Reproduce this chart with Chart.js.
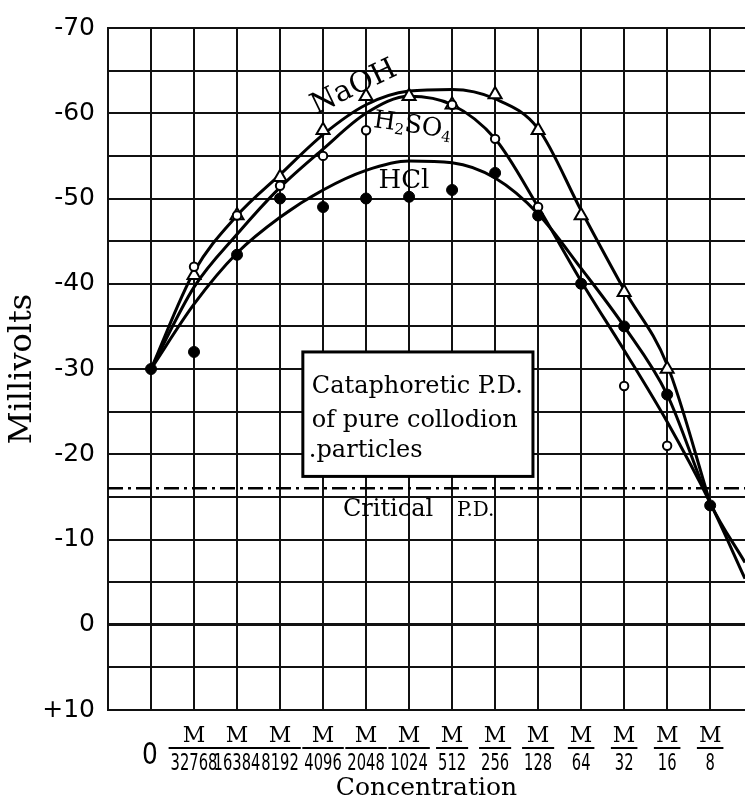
<!DOCTYPE html>
<html>
<head>
<meta charset="utf-8">
<script src="https://cdn.jsdelivr.net/npm/chart.js@4.4.1/dist/chart.umd.min.js"></script>
<style>
  html, body { margin: 0; padding: 0; background: #fff; }
</style>
</head>
<body>
<canvas id="chart" width="745" height="804"></canvas>
<script>
// concentration steps: "0" then M / n
const concLabels = ['0', '32768', '16384', '8192', '4096', '2048', '1024', '512', '256', '128', '64', '32', '16', '8'];

// measured points in millivolts (null = no mark at that step)
const hclPoints   = [-30, -32, -43.4, -50, -49, -50, -50.2, -51, -53, -48, -40, -35, -27, -14];
const h2so4Points = [null, -42, -48, -51.5, -55, -58, null, -61, -57, -49, null, -28, -21, null];
const naohPoints  = [null, -41, -48, -52.5, -58, -62, -62, -61, -62.2, -58, -48, -39, -30, null];

// hand drawn curves; the step past "8" is where a curve leaves the frame
const curveSteps = [0, 1, 2, 3, 4, 5, 6, 7, 8, 9, 10, 11, 12, 13, 13.81];
const naohCurve  = [-30, -41.4, -48, -52.8, -57.5, -61, -62.6, -62.8, -61.7, -58.2, -48.6, -39.3, -30.5, -14.3];
const h2so4Curve = [-30, -39.6, -45.8, -51.3, -55.8, -60, -62, -61, -57, -49, -40.3, -32.2, -23.8, -14.3, -5.4];
const hclCurve   = [-30, -37.6, -43.6, -47.8, -51, -53.3, -54.4, -54.2, -52.4, -48.2, -41.8, -35, -27, -14.3, -7.3];

const criticalPD = -16;
const yTickStep = 5;

const pts = (arr) => arr.map((v, i) => ({ x: i, y: v }));
const curve = (arr) => arr.map((v, i) => ({ x: curveSteps[i], y: v }));

const INK = '#111';

const paperText = {
  id: 'paperText',
  afterDatasetsDraw(chart) {
    const { ctx, scales: { x, y } } = chart;
    ctx.save();
    ctx.fillStyle = '#000';

    // boxed note
    const bx0 = x.getPixelForValue(3.53), bx1 = x.getPixelForValue(8.88);
    const by0 = y.getPixelForValue(-32), by1 = y.getPixelForValue(-17.4);
    ctx.fillStyle = '#fff';
    ctx.fillRect(bx0, by0, bx1 - bx0, by1 - by0);
    ctx.lineWidth = 3;
    ctx.strokeStyle = '#000';
    ctx.strokeRect(bx0, by0, bx1 - bx0, by1 - by0);
    ctx.fillStyle = '#000';
    ctx.font = '24px "DejaVu Serif"';
    ctx.textAlign = 'left';
    ctx.textBaseline = 'alphabetic';
    const tx = x.getPixelForValue(3.74);
    ctx.fillText('Cataphoretic P.D.', tx, y.getPixelForValue(-27.2));
    ctx.fillText('of pure collodion', tx, y.getPixelForValue(-23.2));
    ctx.fillText('.particles', tx - 3, y.getPixelForValue(-19.7));

    // critical p.d. text
    ctx.textAlign = 'center';
    ctx.font = '24px "DejaVu Serif"';
    ctx.fillText('Critical', x.getPixelForValue(5.51), y.getPixelForValue(-12.8));
    ctx.font = '20px "DejaVu Serif"';
    ctx.fillText('P.D.', x.getPixelForValue(7.55), y.getPixelForValue(-12.8));

    // curve names
    ctx.textBaseline = 'middle';
    ctx.save();
    ctx.translate(x.getPixelForValue(4.72), y.getPixelForValue(-63));
    ctx.rotate(-0.45);
    ctx.font = '29px "DejaVu Serif"';
    ctx.fillText('NaOH', 0, 0);
    ctx.restore();

    ctx.font = '26px "DejaVu Serif"';
    ctx.fillText('HCl', x.getPixelForValue(5.88), y.getPixelForValue(-52));

    // H2SO4 with subscripts
    ctx.save();
    ctx.translate(x.getPixelForValue(6.08), y.getPixelForValue(-58.5));
    ctx.rotate(0.14);
    const parts = [['H', 25, 0], ['2', 15, 6], ['SO', 25, 0], ['4', 15, 7]];
    let total = 0;
    parts.forEach(p => { ctx.font = p[1] + 'px "DejaVu Serif"'; total += ctx.measureText(p[0]).width; });
    let cx = -total / 2;
    ctx.textAlign = 'left';
    parts.forEach(p => {
      ctx.font = p[1] + 'px "DejaVu Serif"';
      ctx.fillText(p[0], cx, p[2]);
      cx += ctx.measureText(p[0]).width;
    });
    ctx.restore();
    ctx.restore();
  },
  afterDraw(chart) {
    const { ctx, scales: { x } } = chart;
    const top = x.top;
    ctx.save();
    ctx.fillStyle = '#000';
    ctx.strokeStyle = '#000';
    ctx.textAlign = 'center';
    ctx.textBaseline = 'middle';
    concLabels.forEach((lab, i) => {
      const cx = x.getPixelForValue(i);
      if (lab === '0') {
        ctx.save();
        ctx.translate(cx - 1, top + 46);
        ctx.scale(0.8, 1);
        ctx.font = '31px "DejaVu Sans"';
        ctx.fillText(lab, 0, 0);
        ctx.restore();
        return;
      }
      ctx.font = '22px "DejaVu Serif"';
      const mw = ctx.measureText('M').width;
      ctx.fillText('M', cx, top + 26);
      ctx.save();
      ctx.translate(cx, top + 54);
      ctx.scale(0.64, 1);
      ctx.font = '23px "DejaVu Sans"';
      const nw = ctx.measureText(lab).width * 0.64;
      ctx.fillText(lab, 0, 0);
      ctx.restore();
      const bw = Math.max(mw, nw) + 4;
      ctx.lineWidth = 2;
      ctx.beginPath();
      ctx.moveTo(cx - bw / 2, top + 38);
      ctx.lineTo(cx + bw / 2, top + 38);
      ctx.stroke();
    });
    ctx.restore();
  }
};

const curveStyle = {
  borderColor: '#000',
  borderWidth: 3,
  pointRadius: 0,
  cubicInterpolationMode: 'monotone',
  fill: false
};

new Chart(document.getElementById('chart'), {
  type: 'line',
  data: {
    datasets: [
      { label: 'HCl pts', data: pts(hclPoints), showLine: false, pointStyle: 'circle',
        pointRadius: 5.5, pointBackgroundColor: '#000', pointBorderColor: '#000', pointBorderWidth: 1, order: 1 },
      { label: 'H2SO4 pts', data: pts(h2so4Points), showLine: false, pointStyle: 'circle',
        pointRadius: 4.2, pointBackgroundColor: '#fff', pointBorderColor: '#000', pointBorderWidth: 2, order: 2 },
      { label: 'NaOH pts', data: pts(naohPoints), showLine: false, pointStyle: 'triangle',
        pointRadius: 7.5, pointBackgroundColor: '#fff', pointBorderColor: '#000', pointBorderWidth: 2, order: 3 },
      { label: 'NaOH', data: curve(naohCurve), ...curveStyle, order: 5 },
      { label: 'H2SO4', data: curve(h2so4Curve), ...curveStyle, order: 5 },
      { label: 'HCl', data: curve(hclCurve), ...curveStyle, order: 5 },
      { label: 'Critical P.D.', data: [{ x: -1, y: criticalPD }, { x: 13.81, y: criticalPD }],
        borderColor: '#000', borderWidth: 2.5, borderDash: [15, 5, 3, 5], pointRadius: 0, order: 6 }
    ]
  },
  options: {
    responsive: false,
    animation: false,
    devicePixelRatio: 1,
    layout: { autoPadding: false, padding: { top: 18, left: 0, right: 0, bottom: 0 } },
    plugins: { legend: { display: false }, tooltip: { enabled: false } },
    scales: {
      x: {
        type: 'linear',
        min: -1,
        max: 13.81,
        afterFit(s) { s.height = 94; },
        ticks: { stepSize: 1, includeBounds: false, display: false },
        grid: { color: INK, lineWidth: 2, drawTicks: false },
        border: { color: INK, width: 2 },
        title: { display: true, text: 'Concentration', color: '#000',
          font: { family: 'DejaVu Serif', size: 25 }, padding: { top: 0, bottom: 1 } }
      },
      y: {
        type: 'linear',
        reverse: true,
        min: -70,
        max: 10,
        afterFit(s) { s.width = 108; },
        ticks: {
          stepSize: yTickStep,
          autoSkip: false,
          padding: 13,
          color: '#000',
          font: { family: 'DejaVu Sans', size: 25 },
          callback: v => (v % 10 !== 0 ? '' : (v > 0 ? '+' + v : String(v)))
        },
        grid: { color: INK, lineWidth: c => (c.tick && c.tick.value === 0 ? 3 : 2), drawTicks: false },
        border: { color: INK, width: 2 },
        title: { display: true, text: 'Millivolts', color: '#000',
          font: { family: 'DejaVu Serif', size: 32 }, padding: { top: 3, bottom: 0 } }
      }
    }
  },
  plugins: [paperText]
});
</script>
</body>
</html>
